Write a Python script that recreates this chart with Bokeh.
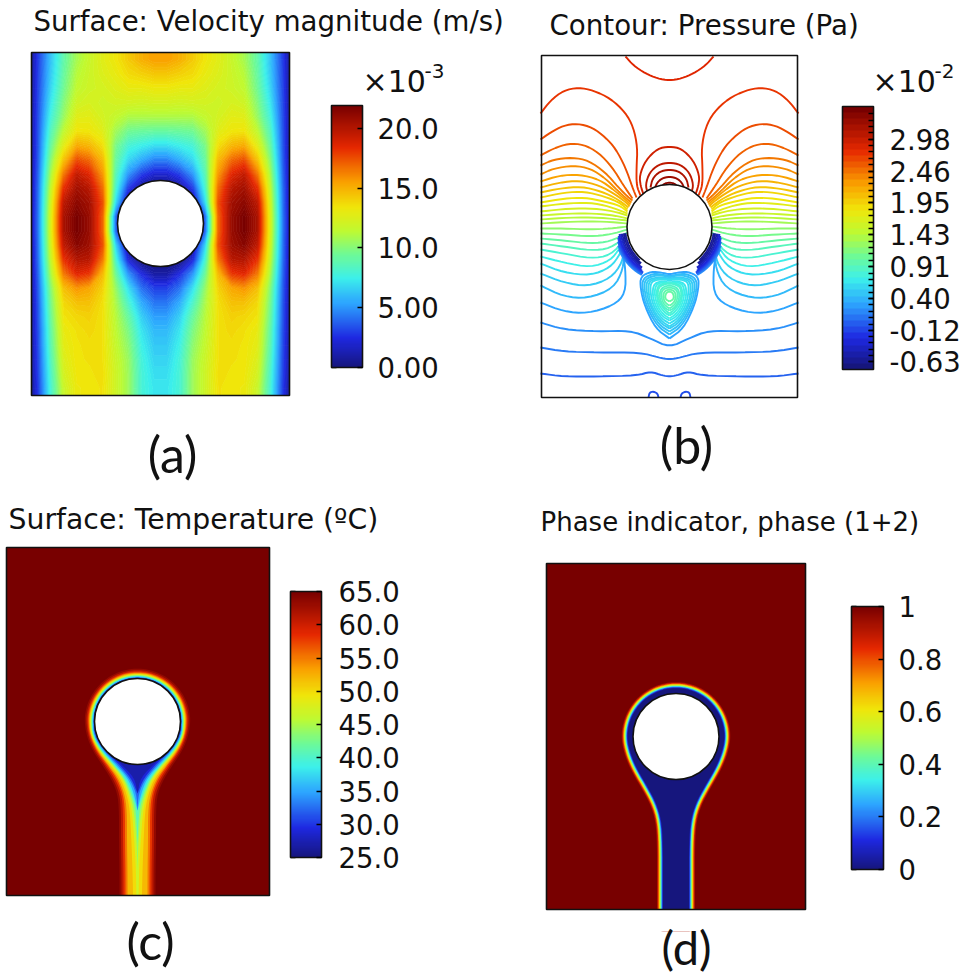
import numpy as np
from bokeh.plotting import figure
from bokeh.models import LinearColorMapper, ColorBar, FixedTicker
from bokeh.core.properties import value
from bokeh.embed import file_html
from bokeh.resources import INLINE

# ---- colour scale (style)
anchor_pos = [0, .11, .245, .34, .43, .52, .61, .71, .84, 1]
anchor_r = [22, 30, 45, 60, 110, 190, 240, 250, 230, 120]
anchor_g = [22, 40, 165, 240, 250, 250, 230, 160, 40, 0]
anchor_b = [125, 225, 255, 235, 150, 50, 10, 0, 0, 0]
def jet(f):
    f = float(np.clip(f, 0, 1))
    return "#%02x%02x%02x" % tuple(int(round(np.interp(f, anchor_pos, a))) for a in (anchor_r, anchor_g, anchor_b))
def palette(n):
    return [jet(i / (n - 1)) for i in range(n)]

# ---- (a) velocity magnitude, x10^-3 m/s, read down 11 columns of the left half, wall to axis
vel_wall = [0.8,0.8,0.8,0.9,1.0,1.0,1.0,1.1,1.2,1.3,1.3,1.4,1.4,1.3,1.3,1.2,1.1,1.0,1.0,1.0,0.9,0.9,0.8,0.7]
vel_c1 = [2.8,2.9,3.0,3.1,3.2,3.3,3.4,3.5,3.7,3.9,4.0,4.1,4.1,4.0,3.9,3.7,3.5,3.4,3.3,3.2,3.1,3.0,2.9,2.7]
vel_c2 = [6.2,6.4,6.7,7.2,7.8,8.5,9.2,10,10.8,11.5,12,12.3,12.3,12,11.5,10.8,10,9.6,9.3,9.0,8.8,8.5,8.2,8]
vel_c3 = [9,9.2,9.5,10,10.5,11.5,12.8,14.5,16.5,18.3,19.7,20.3,20.3,19.6,18.2,16.5,14.6,13.8,13.4,13,12.8,12.5,12.2,11.8]
vel_c4 = [10.8,11.2,11.5,12,12.7,13.4,15.2,17.5,19.5,20.5,21.2,21.8,21.8,21.3,20,18.5,15.8,14.5,13.8,13.5,13.4,13.4,13.3,13.2]
vel_c5 = [11.8,11.9,12,12.3,12.8,13.3,14.8,16.8,18.5,19.8,20.5,20.8,20.8,20.6,19.8,18,15.3,14.5,14,13.8,13.6,13.5,13.4,13.3]
vel_c6 = [12.7,12.5,12.2,12,12.2,12.7,13.6,14.8,15.8,16.8,17.5,17,17,17.5,16.5,14.8,14,13.6,13.5,13.5,13.5,13.5,13.6,13.5]
vel_c7 = [13.3,13,12.6,12.2,11.6,10.7,9.8,9.3,8.8,8.2,7,4,4,6.8,8.2,9.5,10.5,11,11.3,11.5,11.7,11.9,12,12]
vel_c8 = [14.2,13.7,13,12.2,11,9.5,8,6.8,5,2.8,0.5,0,0,0.5,2.2,5,7,8.2,9.2,9.8,10.2,10.5,10.6,10.6]
vel_c9 = [15,14,13,12.1,11,9.3,7.5,5.6,3,0.6,0,0,0,0,0,2.5,4.2,5.6,6.6,7.2,7.6,7.9,8,8]
vel_c10 = [15.5,14.3,13.2,12.2,11,9.2,7,4.6,2,0,0,0,0,0,0,1,3,4.3,5.3,6,6.4,6.7,7,7.2]
velocity_ticks = [0, 5, 10, 15, 20]
velocity_labels = ["0.00", "5.00", "10.0", "15.0", "20.0"]

# ---- (b) pressure contours, x10^-2 Pa; each path: (distance from the axis, height in the picture)
pressure_ticks = [-0.63, -0.12, 0.40, 0.91, 1.43, 1.95, 2.46, 2.98]
pressure_levels = [-0.63,-0.53,-0.43,-0.32,-0.22,-0.12,-0.02,0.09,0.19,0.29,0.40,0.50,0.60,0.71,0.81,0.91,1.02,1.12,1.23,1.33,
                   1.43,1.54,1.64,1.74,1.85,1.95,2.05,2.16,2.26,2.36,2.47,2.57,2.67,2.78,2.88,2.98,3.09,3.19,3.29,3.40]
contour_level = []
contour_u = []
contour_v = []
def add_contour(level, u, v):
    contour_level.append(level); contour_u.append(u); contour_v.append(v)
add_contour(2.88, [44,36,24,12,0], [56,65,73,78,80])
add_contour(2.78, [129,119,106,91,76,59,44,36,32,33,33,29], [113,100,90,87,90,98,112,127,147,167,185,195])
add_contour(2.67, [129,119,106,92,77,64,54,44,37,33], [139,132,125,123,127,137,148,167,187,197])
add_contour(2.57, [129,116,101,86,71,57,46,37], [155,148,143,144,152,167,185,198])
add_contour(2.47, [129,116,97,81,64,51,41,37], [165,159,157,160,172,187,197,200])
add_contour(2.36, [129,116,96,79,64,52,42,38], [174,168,165,168,178,190,199,202])
add_contour(2.26, [129,110,90,70,55,42,39], [181,175,174,179,190,201,204])
add_contour(2.16, [129,110,90,70,54,42,40], [187,182,180,185,194,203,206])
add_contour(2.05, [129,110,88,68,53,41], [192,188,186,191,198,207])
add_contour(1.95, [129,105,85,65,50,42], [197,192,191,196,202,209])
add_contour(1.85, [129,105,85,65,50,42], [202,198,197,201,205,211])
add_contour(1.74, [129,105,80,60,42], [206,203,202,206,213])
add_contour(1.64, [129,100,75,55,42], [211,208,208,211,215])
add_contour(1.54, [129,100,75,55,42], [215,213,213,215,218])
add_contour(1.43, [129,100,70,42], [219,217,217,220])
add_contour(1.33, [129,95,65,42], [223,221,221,223])
add_contour(1.23, [129,106,79,59,42], [228,228,229,228,226])
add_contour(1.12, [129,106,79,59,42], [233,234,236,234,229])
add_contour(1.02, [129,106,79,59,42], [238,240,243,241,232])
add_contour(0.91, [129,106,79,59,43], [243,246,250,248,235])
add_contour(0.81, [129,106,79,59,44], [249,253,258,255,238])
add_contour(0.71, [129,106,79,59,50,45], [256,262,267,260,248,241])
add_contour(0.60, [129,106,79,59,49,46], [263,272,275,267,253,244])
add_contour(0.50, [129,106,82,59,47,46], [273,282,286,278,262,247])
add_contour(0.40, [129,106,82,56,46,46], [285,296,298,288,268,250])
add_contour(0.29, [129,106,82,56,44,44,47], [302,311,313,305,293,268,252])
add_contour(0.19, [129,106,72,39,19,0], [322,329,331,330,338,347])
add_contour(0.09, [129,106,72,29,11,0], [347,351,352,352,357,359])
add_contour(-0.02, [129,106,72,32,19,7,0], [373,376,376,375,371,375,376])
add_contour(-0.12, [21,20,16,12,11], [397,392,391,393,397])
add_contour(2.98, [0,12,24,30,29,26], [146,148,160,175,185,194])
add_contour(3.09, [0,11,20,24,22], [162,164,172,184,192])
add_contour(3.19, [0,10,17,19], [169,171,178,187])
add_contour(3.29, [0,8,13,15], [176,178,183,189])
add_contour(3.40, [0,5,8], [182,183,186])
add_contour(0.29, [0,8,18,29,29,25,14,0], [274,272,271,276,288,305,328,338])
add_contour(0.40, [0,7,16,27,27,23,12,0], [276,274,273,278,290,306,326,334])
add_contour(0.45, [0,7,15,25,25,21,11,0], [277,275,275,279,291,306,324,331])
add_contour(0.50, [0,6,14,23,23,19,10,0], [278,277,277,280,292,306,322,328])
add_contour(0.55, [0,6,13,21,21,18,9,0], [279,278,278,281,293,306,320,326])
add_contour(0.60, [0,5,12,19,19,16,8,0], [280,279,279,282,293,306,318,323])
add_contour(0.65, [0,5,10,16,17,14,7,0], [282,281,281,284,294,306,316,320])
add_contour(0.71, [0,4,9,14,15,12,6,0], [283,282,282,285,294,306,314,318])
add_contour(0.76, [0,7,12,13,11,5,0], [282,283,286,294,304,312,315])
add_contour(0.81, [0,6,11,12,9,4,0], [283,284,287,295,304,310,313])
add_contour(0.86, [0,5,9,10,8,4,0], [285,286,289,296,303,308,310])
add_contour(0.91, [0,5,8,8,6,3,0], [287,288,291,297,303,306,308])
add_contour(0.97, [0,4,6,6,5,2,0], [289,290,293,297,301,304,305])
add_contour(1.02, [0,3,4.5,3.5,0], [291,292,296,299,301])
shoulder_levels = [0.19, 0.09, -0.02, -0.12, -0.22, -0.32, -0.43, -0.53, -0.63, -0.63]
shoulder_gap = [13, 12, 11, 10, 9, 8, 6.5, 5, 3.5, 2]
shoulder_from = [114, 110, 106, 102, 100, 98, 98, 98, 98, 98]
shoulder_to = [152, 152, 152, 150, 150, 148, 146, 144, 142, 140]

# ---- (c) temperature isotherms, degC: gap to the cylinder round its top, half-width of the plume below
temperature_ticks = [25, 30, 35, 40, 45, 50, 55, 60, 65]
temperature_labels = ["25.0", "30.0", "35.0", "40.0", "45.0", "50.0", "55.0", "60.0", "65.0"]
plume_rows = [735, 750, 762, 777, 793, 810, 843, 870, 915]
iso_levels = [63.5, 61, 58, 55, 52, 50, 47, 44, 41, 38, 35, 32, 29, 27]
iso_gap = [10, 8.5, 7.2, 6.3, 5.5, 4.8, 4.2, 3.6, 3, 2.4, 1.8, 1.2, 0.8, 0.4]
iso_half = [
 [51, 45, 37, 27, 20, 18.5, 18.5, 18, 18],
 [49.5, 43.5, 35, 25, 18, 16.5, 16.5, 16, 16],
 [48.5, 42, 33.5, 23, 16, 14.5, 14.5, 14, 14],
 [47.5, 41, 32, 21, 14.5, 12.5, 12.5, 12, 12],
 [47, 40, 31, 19.5, 13, 10.5, 10.5, 10, 10],
 [46.5, 39, 29.5, 17.5, 11, 7.5, 6, 5, 4],
 [46, 38.5, 28.5, 16, 9.5, 5.5, 3, 1.5, 0.8],
 [45.5, 38, 27, 14.5, 8, 3.5, 0.8, 0],
 [45, 37, 26, 13.5, 6.5, 1.5, 0],
 [44.5, 36, 25, 12, 5, 0],
 [44, 35, 24, 10, 3.5, 0],
 [43.5, 34, 22, 8.5, 1, 0],
 [42.5, 33, 20, 6.5, 0],
 [41.5, 32, 18, 3, 0],
]

# ---- (d) phase indicator
phase_ticks = [0, 0.2, 0.4, 0.6, 0.8, 1]
phase_labels = ["0", "0.2", "0.4", "0.6", "0.8", "1"]
phase_rows = [745, 757, 770, 787, 803, 820, 843, 880, 925]
phase_half = [47.5, 44, 38, 28, 19.5, 14.5, 13, 13, 13]
phase_levels = [0.93, 0.85, 0.72, 0.6, 0.48, 0.35, 0.2, 0.08]
phase_stroke = [12, 10.5, 9, 7.5, 6, 4.5, 3, 1.5]

# ---- helpers
def chaikin(x, y, n=2):
    x, y = np.asarray(x, float), np.asarray(y, float)
    for _ in range(n):
        if len(x) < 3:
            break
        qx = .75 * x[:-1] + .25 * x[1:]; rx = .25 * x[:-1] + .75 * x[1:]
        qy = .75 * y[:-1] + .25 * y[1:]; ry = .25 * y[:-1] + .75 * y[1:]
        x = np.concatenate([[x[0]], np.column_stack([qx, rx]).ravel(), [x[-1]]])
        y = np.concatenate([[y[0]], np.column_stack([qy, ry]).ravel(), [y[-1]]])
    return x, y

def mirror(axis, u, v):
    u, v = list(u), list(v)
    tail = -2 if u[-1] == 0 else -1
    return [axis - a for a in u] + [axis + a for a in u[tail::-1]], v + v[tail::-1]

p = figure(width=966, height=973, x_range=(0, 966), y_range=(973, 0), x_axis_type=None, y_axis_type=None,
           toolbar_location=None, output_backend="svg", min_border=0, outline_line_color=None,
           background_fill_color="white", border_fill_color="white")

FONT = "DejaVu Sans"

def frame(l, r, t, b):
    p.quad(left=[l], right=[r], top=[t], bottom=[b], fill_color=None, line_color="#111111", line_width=1.6)
def cylinder(cx, cy, rad):
    p.circle(x=[cx], y=[cy], radius=rad, fill_color="white", line_color="#111111", line_width=1.6)

def bar(x_left, y_top, y_bottom, width, vmin, vmax, pal, ticks, labels, standoff, minor=None):
    mapper = LinearColorMapper(palette=pal, low=vmin, high=vmax)
    h = y_bottom - y_top
    overrides = {t: l for t, l in zip(ticks, labels)}
    cb = ColorBar(color_mapper=mapper, location=(x_left, 973 - y_bottom), width=width, height=h, padding=0, margin=0,
                  ticker=FixedTicker(ticks=list(ticks), minor_ticks=list(minor or [])), major_label_overrides=overrides,
                  major_tick_line_color="black", major_tick_in=5, major_tick_out=0, major_tick_line_width=1.5,
                  minor_tick_line_color="black", minor_tick_in=5, minor_tick_out=0, minor_tick_line_width=1.5,
                  bar_line_color="#111111", bar_line_width=1.6, label_standoff=standoff,
                  major_label_text_font=FONT, major_label_text_font_size="27.5px", major_label_text_color="#111111",
                  border_line_color=None, background_fill_color=None)
    p.add_layout(cb, "center")
    marks = list(minor or ticks)
    ys = [y_bottom - (t - vmin) / (vmax - vmin) * h for t in marks]
    p.segment(x0=[x_left] * len(ys), x1=[x_left + 5] * len(ys), y0=ys, y1=ys, line_color="black", line_width=1.5)

# (a)
a_l, a_r, a_t, a_b = 31, 289, 52, 395
half = np.array([vel_wall, vel_c1, vel_c2, vel_c3, vel_c4, vel_c5, vel_c6, vel_c7, vel_c8, vel_c9, vel_c10]).T
vel = np.hstack([half, half[:, ::-1]])
vel = np.vstack([vel[0], vel, vel[-1]])
col_step = (a_r - a_l) / 20
x_cols = [a_l] + [a_l + col_step * (i + .5) for i in range(20)] + [a_r]
row_step = (a_b - a_t) / 24
y_rows = [a_t] + [a_t + row_step * (i + .5) for i in range(24)] + [a_b]
band_edges = np.linspace(0, 21.9, 97)
p.contour(np.array(x_cols), np.array(y_rows), vel, levels=band_edges, fill_color=palette(96), line_color=palette(97), line_width=1)
frame(a_l, a_r, a_t, a_b)
cylinder(160, 223, 43)
bar(331, 105, 367, 31, 0, 21.9, palette(256), velocity_ticks, velocity_labels, 15)

# (b)
b_axis = 669
p_min, p_max = -0.76, 3.52
xs, ys, cs = [], [], []
for lev, u, v in zip(contour_level, contour_u, contour_v):
    col = jet((lev - p_min) / (p_max - p_min))
    u = list(u); v = list(v)
    if u[0] == 0 or u[-1] == 0:
        if u[0] == 0:
            u = u[::-1]; v = v[::-1]
        fx, fy = mirror(b_axis, u, v)
        x_, y_ = chaikin(fx, fy)
        xs.append(list(x_)); ys.append(list(y_)); cs.append(col)
    else:
        for s in (-1, 1):
            x_, y_ = chaikin([b_axis + s * a for a in u], v)
            xs.append(list(x_)); ys.append(list(y_)); cs.append(col)
for lev, g, a0, a1 in zip(shoulder_levels, shoulder_gap, shoulder_from, shoulder_to):
    phi = np.radians(np.arange(a0, a1 + 1, 4))
    r = 42.5 + g
    col = jet((lev - p_min) / (p_max - p_min))
    for s in (-1, 1):
        xs.append(list(b_axis + s * r * np.sin(phi))); ys.append(list(226.5 - r * np.cos(phi))); cs.append(col)
p.multi_line(xs=xs, ys=ys, line_color=cs, line_width=1.9)
frame(541, 797, 55, 397)
cylinder(b_axis, 226.5, 42.5)
bar(842, 106, 369, 31, p_min, p_max, palette(43), pressure_ticks, [f"{t:.2f}" for t in pressure_ticks], 16, minor=pressure_levels)

# (c)
c_l, c_r, c_t, c_b = 6, 269, 547, 895
c_cx, c_cy = 137, 721
T_min, T_max = 25, 65
p.quad(left=[c_l], right=[c_r], top=[c_t], bottom=[c_b], fill_color=jet(1), line_color=None)
def outline(cx, cy, rad, rows, halves):
    phi = np.radians(np.arange(10, 91, 10))
    u = list(rad * np.sin(phi)); v = list(cy - rad * np.cos(phi))
    for y_, h_ in zip(rows, halves):
        u.append(h_); v.append(y_)
    fx = [cx - a for a in u[::-1]] + [cx] + [cx + a for a in u]
    fy = v[::-1] + [cy - rad] + v
    return chaikin(fx, fy, 2)
cx_s, cy_s, col_s = [], [], []
for lev, gap, hh in zip(iso_levels, iso_gap, iso_half):
    x_, y_ = outline(c_cx, c_cy, 43 + gap, plume_rows[:len(hh)], hh)
    cx_s.append(list(x_)); cy_s.append(list(y_)); col_s.append(jet((lev - T_min) / (T_max - T_min)))
p.patches(xs=cx_s, ys=cy_s, fill_color=col_s, line_color=None)
p.quad(left=[c_l - 2], right=[c_r + 2], top=[c_b], bottom=[c_b + 22], fill_color="white", line_color=None)
cylinder(c_cx, c_cy, 43)
bar(290, 591, 857, 31, T_min, T_max, palette(256), temperature_ticks, temperature_labels, 17)

# (d)
d_l, d_r, d_t, d_b = 546, 805, 563, 909
d_cx, d_cy = 675.5, 736
p.quad(left=[d_l], right=[d_r], top=[d_t], bottom=[d_b], fill_color=jet(1), line_color=None)
ox, oy = outline(d_cx, d_cy, 48.5, phase_rows, phase_half)
for lev, w in zip(phase_levels, phase_stroke):
    p.patch(x=list(ox), y=list(oy), fill_color=jet(lev), line_color=jet(lev), line_width=w, line_join="round")
p.patch(x=list(ox), y=list(oy), fill_color=jet(0), line_color=None)
p.quad(left=[d_l - 2], right=[d_r + 2], top=[d_b], bottom=[d_b + 22], fill_color="white", line_color=None)
cylinder(d_cx, d_cy, 43)
frame(c_l, c_r, c_t, c_b)
frame(d_l, d_r, d_t, d_b)
bar(851, 606, 869, 32, 0, 1, palette(256), phase_ticks, phase_labels, 15)

# texts
title_text = ["Surface: Velocity magnitude (m/s)", "Contour: Pressure (Pa)", "Surface: Temperature (\u00baC)", "Phase indicator, phase (1+2)"]
title_x = [33, 549, 8, 540]
title_y = [21, 25, 519, 521]
title_size = ["27.6px", "27.7px", "28.3px", "26px"]
for t_, x_, y_, s_ in zip(title_text, title_x, title_y, title_size):
    p.text(x=[x_], y=[y_], text=[t_], text_font=value(FONT), text_font_size=s_, text_color="#111111",
           text_baseline="middle", text_align="left")
tag_text = ["(a)", "(b)", "(c)"]
tag_x = [172, 686, 150]
tag_y = [453, 444, 940]
p.text(x=tag_x, y=tag_y, text=tag_text, text_font=value("Lato"), text_font_size="50px", text_color="#111111",
       text_baseline="middle", text_align="center")
p.text(x=[686], y=[946], text=["(d)"], text_font=value("Lato"), text_font_size="47px", text_color="#111111",
       text_baseline="middle", text_align="center")
p.text(x=[362, 872], y=[81, 81], text=["\u00d710", "\u00d710"], text_font=value(FONT), text_font_size="30px",
       text_color="#111111", text_baseline="middle")
p.text(x=[424, 934], y=[70, 70], text=["-3", "-2"], text_font=value(FONT), text_font_size="20px",
       text_color="#111111", text_baseline="middle")

open("out.html", "w").write(file_html(p, INLINE))
